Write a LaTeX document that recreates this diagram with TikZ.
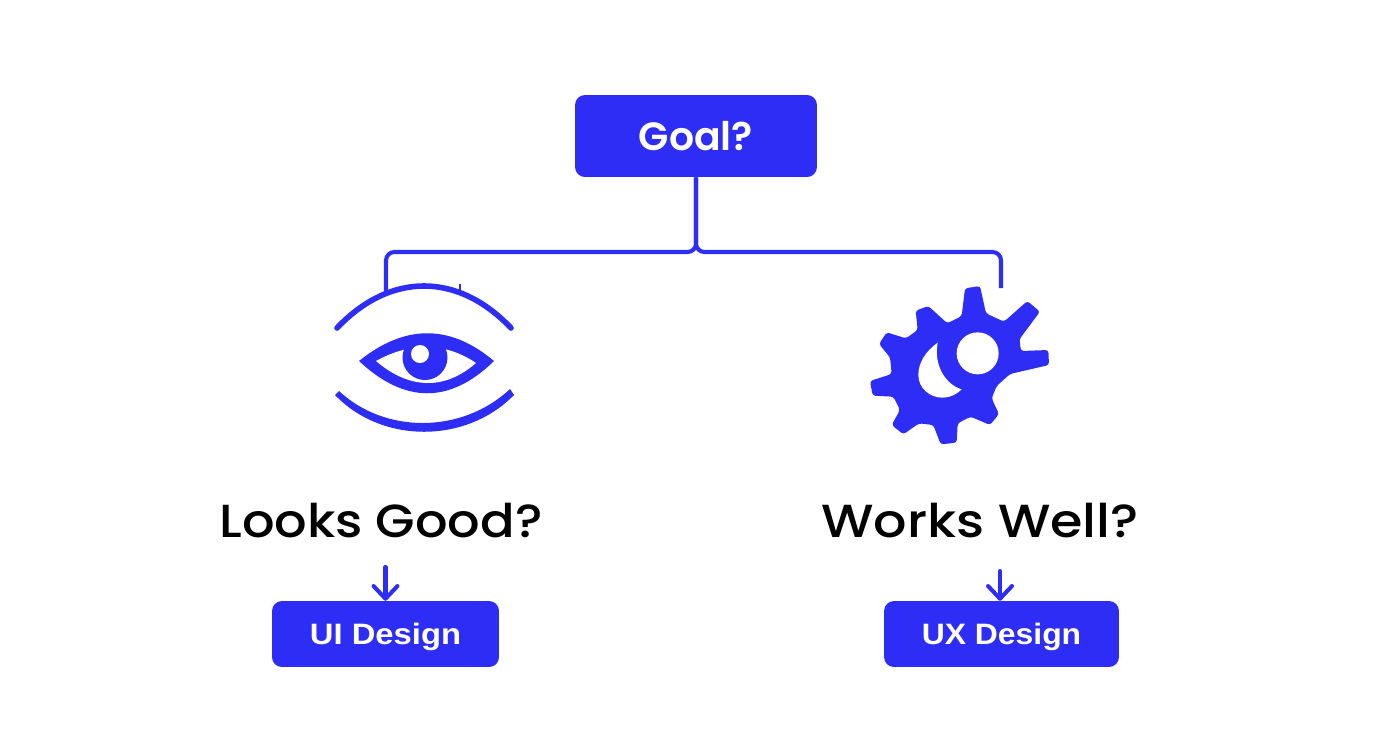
\documentclass[tikz,border=0pt]{standalone}
\usepackage{fontspec}
\setmainfont{Poppins Medium}
\newfontfamily\goalfont{Poppins SemiBold}
\newfontfamily\labelfont{Liberation Sans}
\usepackage{tikz}
\usetikzlibrary{arrows.meta}
\definecolor{goalblue}{HTML}{2D2DF5}

\begin{document}
\begin{tikzpicture}[x=0.025cm,y=-0.025cm]
    \tikzstyle{link}  = [line width=2.9pt,draw=goalblue,rounded corners=6pt]
    \tikzstyle{dedge} = [line width=2.9pt,draw=goalblue,-{Straight Barb[length=9pt,width=17pt,line width=2.9pt,round]},line cap=round]
    \tikzstyle{box}=[
      fill=goalblue,
      text=white,
      rounded corners=7pt,
      anchor=center,
      inner sep=0pt,
      text depth=0pt,
    ]
    \tikzstyle{question}=[
      text=black,
      anchor=center,
      inner sep=0pt,
    ]
    \useasboundingbox (0,0) rectangle (1392,752);

    \node[box,minimum width=172pt,minimum height=58.3pt] (goal) at (696,136) {\goalfont\fontsize{28}{30}\selectfont Goal?};
    \node[question] (looks) at (381,521) {\fontsize{33}{36}\selectfont\scalebox{1.1}[1]{Looks Good?}};
    \node[question] (works) at (980,521) {\fontsize{33}{36}\selectfont\scalebox{1.13}[1]{Works Well?}};
    \node[box,minimum width=161.4pt,minimum height=46.9pt] (ui) at (385.5,634) {\labelfont\fontsize{21}{24}\selectfont\bfseries\scalebox{1.11}[1]{UI Design}};
    \node[box,minimum width=167pt,minimum height=46.9pt] (ux) at (1001.5,634) {\labelfont\fontsize{21}{24}\selectfont\bfseries\scalebox{1.08}[1]{UX Design}};

    \coordinate (fork) at (696,252);
    \coordinate (busleft) at (386,252);
    \coordinate (busright) at (1001,252);
    \coordinate (eyetop) at (386,292);
    \coordinate (geartop) at (1001,288);
    \coordinate (uistart) at (385.5,567);
    \coordinate (uxstart) at (1000,571);

    \draw[link] (goal.south) -- (fork) -- (busleft) -- (eyetop);
    \draw[link] (goal.south) -- (fork) -- (busright) -- (geartop);
    \draw[dedge] (uistart) -- (uistart |- ui.north);
    \draw[dedge] (uxstart) -- (uxstart |- ux.north);

    % eye
    \draw[goalblue,line width=4pt,line cap=round] (337,328) .. controls (390,272) and (458,272) .. (511,328);
    \draw[goalblue,line width=1.2pt] (460,284) -- (460,290);
    \fill[goalblue] (339,391) .. controls (385,434) and (462,434) .. (510,389)
      -- (514,395) .. controls (466,444) and (382,444) .. (335,395) -- cycle;
    \fill[goalblue] (359,361) .. controls (405,324) and (450,324) .. (494,361)
      .. controls (450,404) and (405,404) .. (359,361) -- cycle;
    \fill[white] (376,361) .. controls (410,342) and (445,342) .. (476,363)
      .. controls (445,390) and (410,390) .. (376,361) -- cycle;
    \fill[goalblue] (425,357.5) circle (22.5);
    \fill[white] (420,354) circle (9);

    % gear
    \begin{scope}[shift={(850,270)},x=0.025cm/3,y=-0.025cm/3]
      \fill[goalblue,rounded corners=2pt] (345,55) -- (390,48) -- (408,130) -- (462,155) -- (532,93) -- (570,125)
        -- (508,208) -- (513,243) -- (595,240) -- (597,285) -- (480,312) -- (440,348) -- (425,385)
        -- (447,432) -- (420,465) -- (362,440) -- (323,460) -- (320,518) -- (272,523) -- (250,465)
        -- (207,460) -- (160,493) -- (125,465) -- (150,420) -- (130,380) -- (68,377) -- (60,333)
        -- (125,312) -- (120,262) -- (87,222) -- (110,187) -- (168,205) -- (203,180) -- (197,122)
        -- (235,108) -- (292,160) -- (335,138) -- cycle;
      \fill[white] (383,250) circle (63);
      \fill[white] (263,218) .. controls (225,245) and (205,280) .. (205,315)
        .. controls (205,355) and (240,383) .. (278,383)
        .. controls (300,383) and (320,373) .. (335,358)
        .. controls (290,345) and (250,290) .. (263,218) -- cycle;
    \end{scope}
\end{tikzpicture}
\end{document}
